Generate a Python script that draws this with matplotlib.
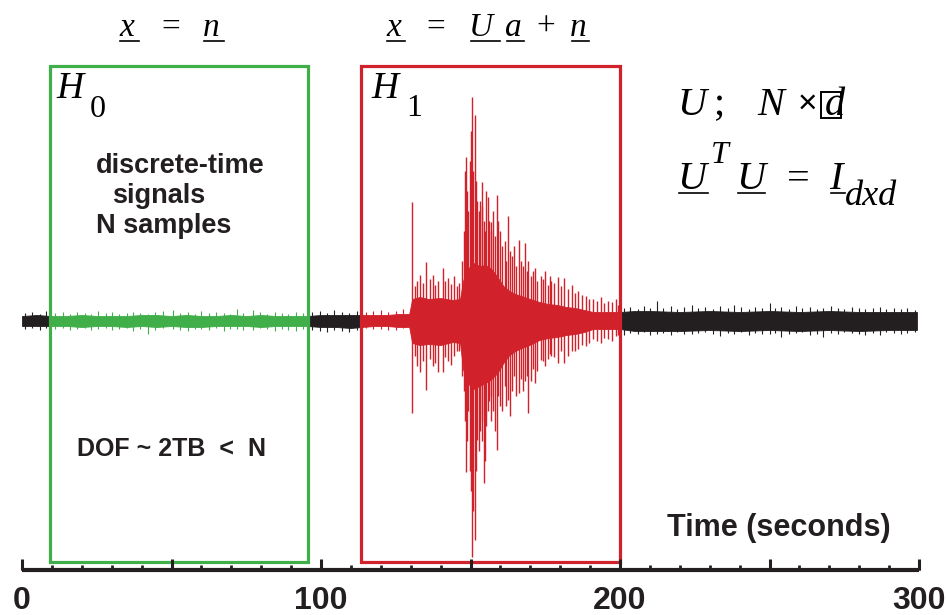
import matplotlib
matplotlib.use("Agg")
import matplotlib.pyplot as plt
from matplotlib.patches import Rectangle
import numpy as np

# ---- data (time in s, amplitude in arbitrary units) ----
# solid core of the trace
band_t = [0, 5, 9.5, 15, 20, 25, 30, 35, 40, 45, 50, 55, 60, 65, 70, 75, 80, 85, 90, 95.5,
          100, 105, 110, 113.5, 118, 122, 126, 129.5, 130.5, 133, 136, 140, 144, 146.5,
          147.5, 149, 151, 153, 155, 157, 159, 161, 163, 165, 167, 169, 171, 173, 176, 179,
          182, 185, 188, 191, 194, 197, 200, 205, 210, 220, 230, 240, 250, 260, 270, 280,
          290, 299.3]
band_hi = [5, 6, 5, 5, 6, 5, 5, 5, 6, 6, 5, 6, 5, 5, 6, 5, 6, 5, 5, 5,
           6, 6, 6, 6, 6, 6, 7, 7, 22, 24, 22, 23, 21, 22,
           40, 52, 58, 55, 56, 52, 44, 35, 30, 27, 25, 23, 21, 19, 17, 16,
           14, 13, 11, 9, 9, 9, 9, 10, 10, 9, 10, 9, 10, 9, 10, 9,
           9, 9]
band_lo = [-5, -5, -5, -5, -6, -5, -5, -6, -5, -6, -5, -6, -6, -5, -5, -5, -6, -5, -5, -5,
           -6, -6, -7, -6, -5, -5, -6, -6, -22, -24, -23, -24, -21, -22,
           -48, -62, -68, -65, -62, -58, -52, -42, -34, -30, -27, -25, -22, -19, -17, -16,
           -14, -13, -11, -8, -8, -8, -8, -10, -10, -10, -9, -10, -9, -10, -9, -10,
           -9, -9]

# background noise excursions
noise_t = [1, 3.5, 6, 8, 11, 13.8, 16, 18.5, 21, 23, 25.5, 28, 30, 32.5, 35, 37, 39.5, 42.3,
           44.5, 47, 50.6, 53, 55.5, 58, 60, 62.5, 65, 67.5, 69.5, 71.8, 74, 77.4, 79.5, 82,
           84.5, 87, 89, 91.5, 94, 97, 99.5, 102, 104.5, 107, 109.5, 112, 115, 117.5, 120,
           122.5, 125, 127.5,
           201.5, 203.5, 206, 208, 210, 212.3, 214.5, 217, 219, 221.5, 224, 226, 228.5, 231,
           233.5, 236, 238, 240.5, 243, 245, 247.5, 250, 252, 254, 256.5, 259, 261, 263.5,
           266, 268, 270.5, 273, 275, 277.5, 280, 282, 284.5, 287, 289, 291.5, 294, 296, 298.5]
noise_hi = [8, 9, 7, 10, 8, 9, 7, 9, 8, 7, 10, 8, 9, 7, 8, 9, 8, 7,
            9, 10, 11, 8, 9, 7, 10, 8, 9, 8, 7, 12, 8, 11, 9, 7,
            9, 8, 7, 9, 8, 9, 10, 8, 11, 9, 8, 10, 9, 10, 11,
            9, 10, 12,
            13, 14, 12, 15, 13, 20, 13, 15, 12, 14, 16, 13, 14, 12,
            15, 13, 16, 14, 12, 14, 13, 18, 13, 14, 12, 15, 13, 14,
            12, 13, 15, 13, 12, 14, 13, 12, 13, 14, 12, 13, 12, 13, 11]
noise_lo = [-8, -7, -9, -7, -8, -7, -9, -8, -7, -9, -8, -7, -9, -8, -7, -10, -8, -13,
            -9, -7, -8, -9, -10, -8, -8, -9, -7, -10, -8, -8, -9, -9, -7, -8,
            -10, -8, -9, -10, -8, -9, -10, -11, -9, -10, -11, -9, -7, -8, -8,
            -9, -9, -7,
            -14, -12, -13, -11, -14, -13, -12, -14, -11, -13, -13, -12, -11, -13,
            -15, -12, -13, -11, -14, -12, -13, -13, -12, -16, -13, -12, -11, -14,
            -13, -16, -12, -13, -11, -12, -13, -14, -12, -14, -11, -12, -13, -12, -11]

# excursions of the event
spike_t = [130.6, 131.5, 132.0, 133.0, 134.0, 135.2, 136.5, 137.5, 138.2, 139.0, 140.7,
           141.5, 142.5, 143.4, 144.5, 145.5, 146.0, 147.0, 147.8, 148.1, 148.5, 148.9,
           149.3, 149.7, 150.1, 150.5, 150.8, 151.4, 151.8, 152.3, 152.7, 153.2, 153.8,
           154.0, 154.4, 154.8, 155.2, 155.9, 156.3, 156.7, 157.0, 157.5, 158.2, 158.7,
           159.3, 160.0, 160.6, 161.5, 162.0, 162.6, 163.2, 163.8, 164.6, 165.3, 166.3,
           167.0, 167.6, 168.2, 168.8, 169.3, 170.3, 170.9, 171.6, 172.3, 173.5, 174.2,
           175.0, 175.8, 176.5, 177.0, 178.0, 179.2, 180.2, 181.4, 182.6, 183.9, 185.0,
           186.0, 187.2, 188.5, 189.6, 191.0, 192.2, 193.5, 194.7, 196.0, 197.2, 198.5,
           199.3]
spike_hi = [119, 35, 40, 46, 38, 59, 42, 46, 36, 40, 53,
            40, 43, 37, 45, 35, 38, 60, 90, 150, 164, 130,
            110, 160, 190, 224, 150, 206, 140, 120, 110, 120, 139,
            115, 100, 90, 130, 124, 100, 90, 99, 110, 85, 126,
            100, 90, 75, 80, 60, 105, 70, 65, 75, 55, 81,
            60, 55, 78, 50, 60, 45, 50, 53, 40, 45, 42,
            50, 36, 45, 40, 38, 44, 35, 43, 32, 36, 28,
            30, 26, 25, 22, 22, 20, 24, 18, 20, 19, 22,
            16]
spike_lo = [-92, -35, -45, -51, -40, -69, -38, -45, -42, -51, -51,
            -36, -40, -44, -35, -30, -30, -55, -70, -100, -151, -120,
            -90, -150, -170, -236, -190, -219, -150, -119, -130, -110, -100,
            -120, -162, -140, -105, -90, -80, -100, -75, -90, -110, -129,
            -75, -85, -90, -65, -85, -79, -95, -70, -55, -75, -72,
            -58, -70, -60, -55, -92, -60, -48, -62, -50, -39, -40,
            -45, -38, -33, -35, -36, -42, -30, -42, -35, -30, -30,
            -28, -24, -25, -22, -18, -20, -22, -17, -18, -20, -15,
            -14]

# colour segments of the trace (they follow the two windows)
seg_edges = [0, 9.5, 95.5, 113.5, 200, 299.3]
BLACK = "#231f20"
GREEN = "#40ae49"
RED = "#d1222b"
seg_colors = [BLACK, GREEN, BLACK, RED, BLACK]

h0_window = (9.5, 95.5)
h1_window = (113.5, 200)
tick_labels = ["0", "100", "200", "300"]

# ---- figure ----
W, H = 948, 615
PX = 2.99          # pixels per second
X0, Y0 = 22, 321   # pixel position of t=0 and zero amplitude

fig = plt.figure(figsize=(W / 100, H / 100), dpi=100)
ax = fig.add_axes([0, 0, 1, 1])
ax.set_xlim(-X0 / PX, (W - X0) / PX)
ax.set_ylim(Y0 - H, Y0)
ax.axis("off")

bt = np.array(band_t)
bh = np.array(band_hi)
bl = np.array(band_lo)
nt, nh, nl = np.array(noise_t), np.array(noise_hi), np.array(noise_lo)
st, sh, sl = np.array(spike_t), np.array(spike_hi), np.array(spike_lo)

for a, b, c in zip(seg_edges[:-1], seg_edges[1:], seg_colors):
    m = (bt >= a) & (bt <= b)
    ax.fill_between(bt[m], bl[m], bh[m], color=c, lw=0.6, ec=c, zorder=2)
    k = (nt >= a) & (nt < b)
    ax.vlines(nt[k], nl[k], nh[k], color=c, lw=0.8, zorder=2)
    k = (st >= a) & (st < b)
    ax.vlines(st[k], sl[k], sh[k], color=c, lw=1.0, zorder=2)


def px2y(py):
    return Y0 - py


# hypothesis windows
for (a, b), c in zip([h0_window, h1_window], [GREEN, RED]):
    ax.add_patch(Rectangle((a, px2y(562)), b - a, px2y(66) - px2y(562),
                           fill=False, ec=c, lw=2.3, zorder=3))

# time axis
ax_y = px2y(570)
ax.plot([0, 300], [ax_y, ax_y], color=BLACK, lw=3, solid_capstyle="butt", zorder=4)
minor = np.arange(0, 301, 10)
tall = minor[minor % 50 == 0]
ax.vlines(minor, ax_y, ax_y + 5, color=BLACK, lw=2, zorder=4)
ax.vlines(tall, ax_y, ax_y + 11, color=BLACK, lw=2.2, zorder=4)
for v, lab in zip([0, 100, 200, 300], tick_labels):
    ax.text(v, px2y(601), lab, ha="center", va="center", fontsize=23,
            fontweight="bold", family="Liberation Sans", color=BLACK)


def txt(x, y, s, size, serif=True, italic=True, color="black", **kw):
    fam = "Liberation Serif" if serif else "Liberation Sans"
    fig.text(x / W, 1 - y / H, s, fontsize=size, family=fam,
             style="italic" if italic else "normal", color=color,
             ha="left", va="baseline", **kw)


def uline(x1, x2, y):
    fig.add_artist(plt.Line2D([x1 / W, x2 / W], [1 - y / H, 1 - y / H],
                              color="black", lw=1.2))


# formulas above the windows
txt(119, 36, "x", 24)
txt(161, 36, "=", 24, italic=False)
txt(203, 36, "n", 24)
uline(120, 139, 41)
uline(204, 224, 41)

txt(386, 36, "x", 24)
txt(426, 36, "=", 24, italic=False)
txt(469, 36, "U", 24)
txt(505, 36, "a", 24)
txt(536, 36, "+", 24, italic=False)
txt(570, 36, "n", 24)
uline(387, 405, 41)
uline(471, 500, 41)
uline(507, 524, 41)
uline(572, 589, 41)

# H0 / H1
txt(56, 98, "H", 27)
txt(90, 117, "0", 23, italic=False)
txt(371, 98, "H", 27)
txt(406, 116, "1", 23, italic=False)

# right-hand formulas
txt(677, 115, "U", 29)
txt(714, 115, ";", 29, italic=False)
txt(757, 115, "N", 29)
fig.text(798 / W, 1 - 113 / H, "\u00d7", fontsize=24, family="Liberation Sans",
         color="black", ha="left", va="baseline")
fig.add_artist(Rectangle((821 / W, 1 - 118 / H), 20 / W, 26 / H, transform=fig.transFigure,
                         fill=False, ec="black", lw=1.4))
txt(825, 115, "d", 29)

txt(677, 189, "U", 29)
txt(711, 163, "T", 23)
txt(736, 189, "U", 29)
txt(787, 189, "=", 29, italic=False)
txt(829, 189, "I", 29)
txt(845, 205, "dxd", 26)
uline(679, 708, 193)
uline(738, 765, 193)
uline(831, 845, 193)

# notes
txt(96, 173, "discrete-time", 19.5, serif=False, italic=False, fontweight="bold", color=BLACK)
txt(112, 203, "signals", 19.5, serif=False, italic=False, fontweight="bold", color=BLACK)
txt(96, 233, "N samples", 19.5, serif=False, italic=False, fontweight="bold", color=BLACK)
txt(77, 456, "DOF ~ 2TB  <  N", 18, serif=False, italic=False, fontweight="bold", color=BLACK)
txt(667, 536, "Time (seconds)", 22, serif=False, italic=False, fontweight="bold", color=BLACK)

fig.savefig("out.png", dpi=100)
